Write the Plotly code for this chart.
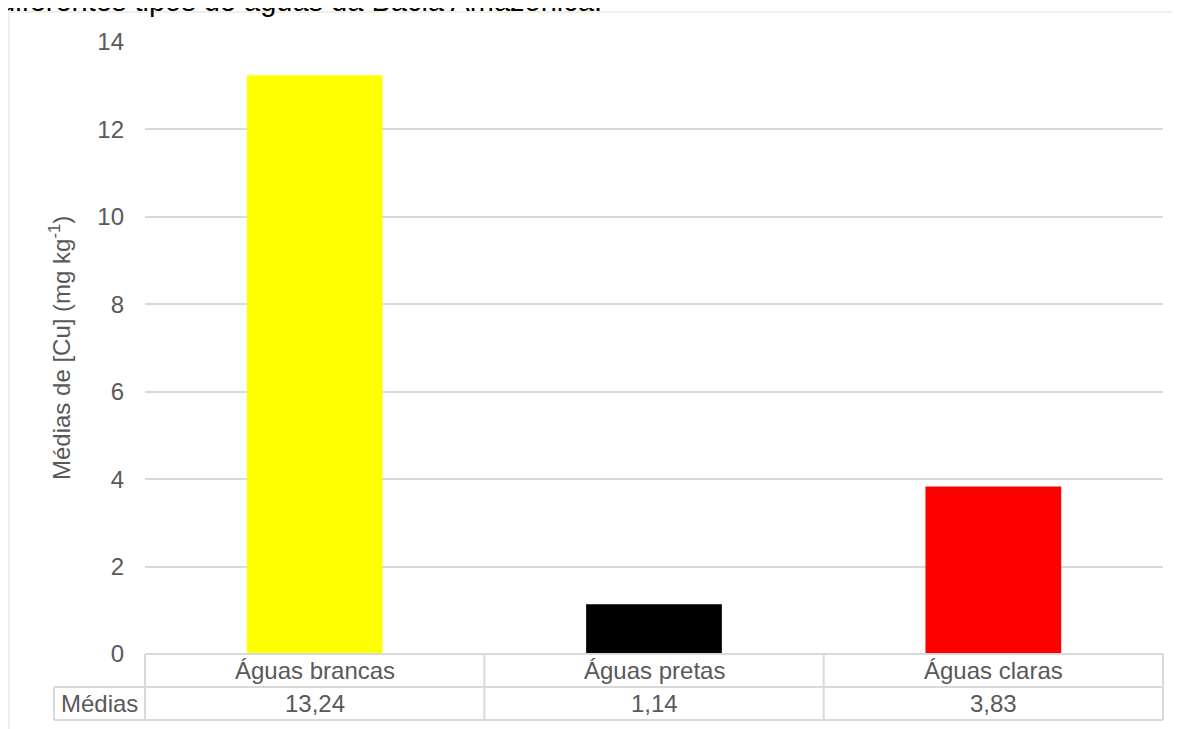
import plotly.graph_objects as go

categories = ["Águas brancas", "Águas pretas", "Águas claras"]
values = [13.24, 1.14, 3.83]
value_labels = ["13,24", "1,14", "3,83"]
bar_colors = ["#ffff00", "#000000", "#ff0000"]
y_ticks = [0, 2, 4, 6, 8, 10, 12, 14]
row_label = "Médias"
title_text = "diferentes tipos de águas da Bacia Amazônica."
y_title = "Médias de [Cu] (mg kg<sup>-1</sup>)"

# page has an 8px body margin, so the figure is drawn from (8, 8)
OFF = 8
W, H = 1180 - OFF, 729 - OFF
PL, PR, PT, PB = 145, 1163, 42, 654      # plot area in page pixels
L, T = PL - OFF, PT - OFF
R = W - (PR - OFF)
B = H - (PB - OFF)
pw = PR - PL
ph = PB - PT

def px_x(p):
    return (p - PL) / pw

def px_y(p):
    return (PB - p) / ph

font_family = "Liberation Sans, Arial, sans-serif"
grey_text = "#595959"
line_col = "#d9d9d9"
FS = 24
ROW1, ROW2, ROW3 = 654, 687, 720
LBL_LEFT = 54

fig = go.Figure()
fig.add_trace(go.Bar(x=categories, y=values, marker_color=bar_colors,
                     marker_line_width=0, width=0.4))

shapes = []
# table horizontal lines
for yy, x0 in [(ROW1, PL), (ROW2, LBL_LEFT), (ROW3, LBL_LEFT)]:
    shapes.append(dict(type="line", xref="paper", yref="paper",
                       x0=px_x(x0), x1=1, y0=px_y(yy), y1=px_y(yy),
                       line=dict(color=line_col, width=2)))
# vertical lines
n = len(categories)
for i in range(n + 1):
    xx = i / n
    shapes.append(dict(type="line", xref="paper", yref="paper",
                       x0=xx, x1=xx, y0=px_y(ROW1), y1=px_y(ROW3),
                       line=dict(color=line_col, width=2)))
shapes.append(dict(type="line", xref="paper", yref="paper",
                   x0=px_x(LBL_LEFT), x1=px_x(LBL_LEFT), y0=px_y(ROW2), y1=px_y(ROW3),
                   line=dict(color=line_col, width=2)))
# beige outer frame
shapes.append(dict(type="line", xref="paper", yref="paper",
                   x0=px_x(9), x1=px_x(1190), y0=px_y(12), y1=px_y(12),
                   line=dict(color="#efeadb", width=1.5)))
shapes.append(dict(type="line", xref="paper", yref="paper",
                   x0=px_x(9), x1=px_x(9), y0=px_y(12), y1=px_y(740),
                   line=dict(color="#efeadb", width=1.5)))

row1_mid = (ROW1 + ROW2) / 2
row2_mid = (ROW2 + ROW3) / 2
annotations = []
for i, (c, v) in enumerate(zip(categories, value_labels)):
    annotations.append(dict(x=i, xref="x", y=px_y(row1_mid), yref="paper",
                            xanchor="center", yanchor="middle",
                            text=c, showarrow=False,
                            font=dict(size=FS, color=grey_text, family=font_family)))
    annotations.append(dict(x=i, xref="x", y=px_y(row2_mid), yref="paper",
                            xanchor="center", yanchor="middle",
                            text=v, showarrow=False,
                            font=dict(size=FS, color=grey_text, family=font_family)))
annotations.append(dict(x=px_x((LBL_LEFT + PL) / 2), xref="paper",
                        y=px_y(row2_mid), yref="paper",
                        xanchor="center", yanchor="middle",
                        text=row_label, showarrow=False,
                        font=dict(size=FS, color=grey_text, family=font_family)))
annotations.append(dict(x=px_x(-3), xref="paper", xanchor="left",
                        y=px_y(19), yref="paper", yanchor="bottom",
                        text=title_text, showarrow=False,
                        font=dict(size=29, color="#000000", family=font_family)))
annotations.append(dict(x=px_x(60), xref="paper", xanchor="center",
                        y=0.5, yref="paper", yanchor="middle",
                        text=y_title, textangle=-90, showarrow=False,
                        font=dict(size=FS, color=grey_text, family=font_family)))

fig.update_layout(
    width=W, height=H,
    margin=dict(l=L, r=R, t=T, b=B, autoexpand=False),
    paper_bgcolor="white", plot_bgcolor="white",
    showlegend=False,
    shapes=shapes,
    annotations=annotations,
    font=dict(family=font_family, color=grey_text),
    xaxis=dict(range=[-0.5, 2.5], showticklabels=False, showgrid=False,
               zeroline=False, showline=False, ticks=""),
    yaxis=dict(range=[0, 14], tickvals=y_ticks, showgrid=True,
               gridcolor=line_col, gridwidth=1.5, zeroline=False,
               showline=False, ticks="", ticklabelstandoff=20,
               tickfont=dict(size=FS, color=grey_text, family=font_family)),
)

fig.write_html("out.html")
